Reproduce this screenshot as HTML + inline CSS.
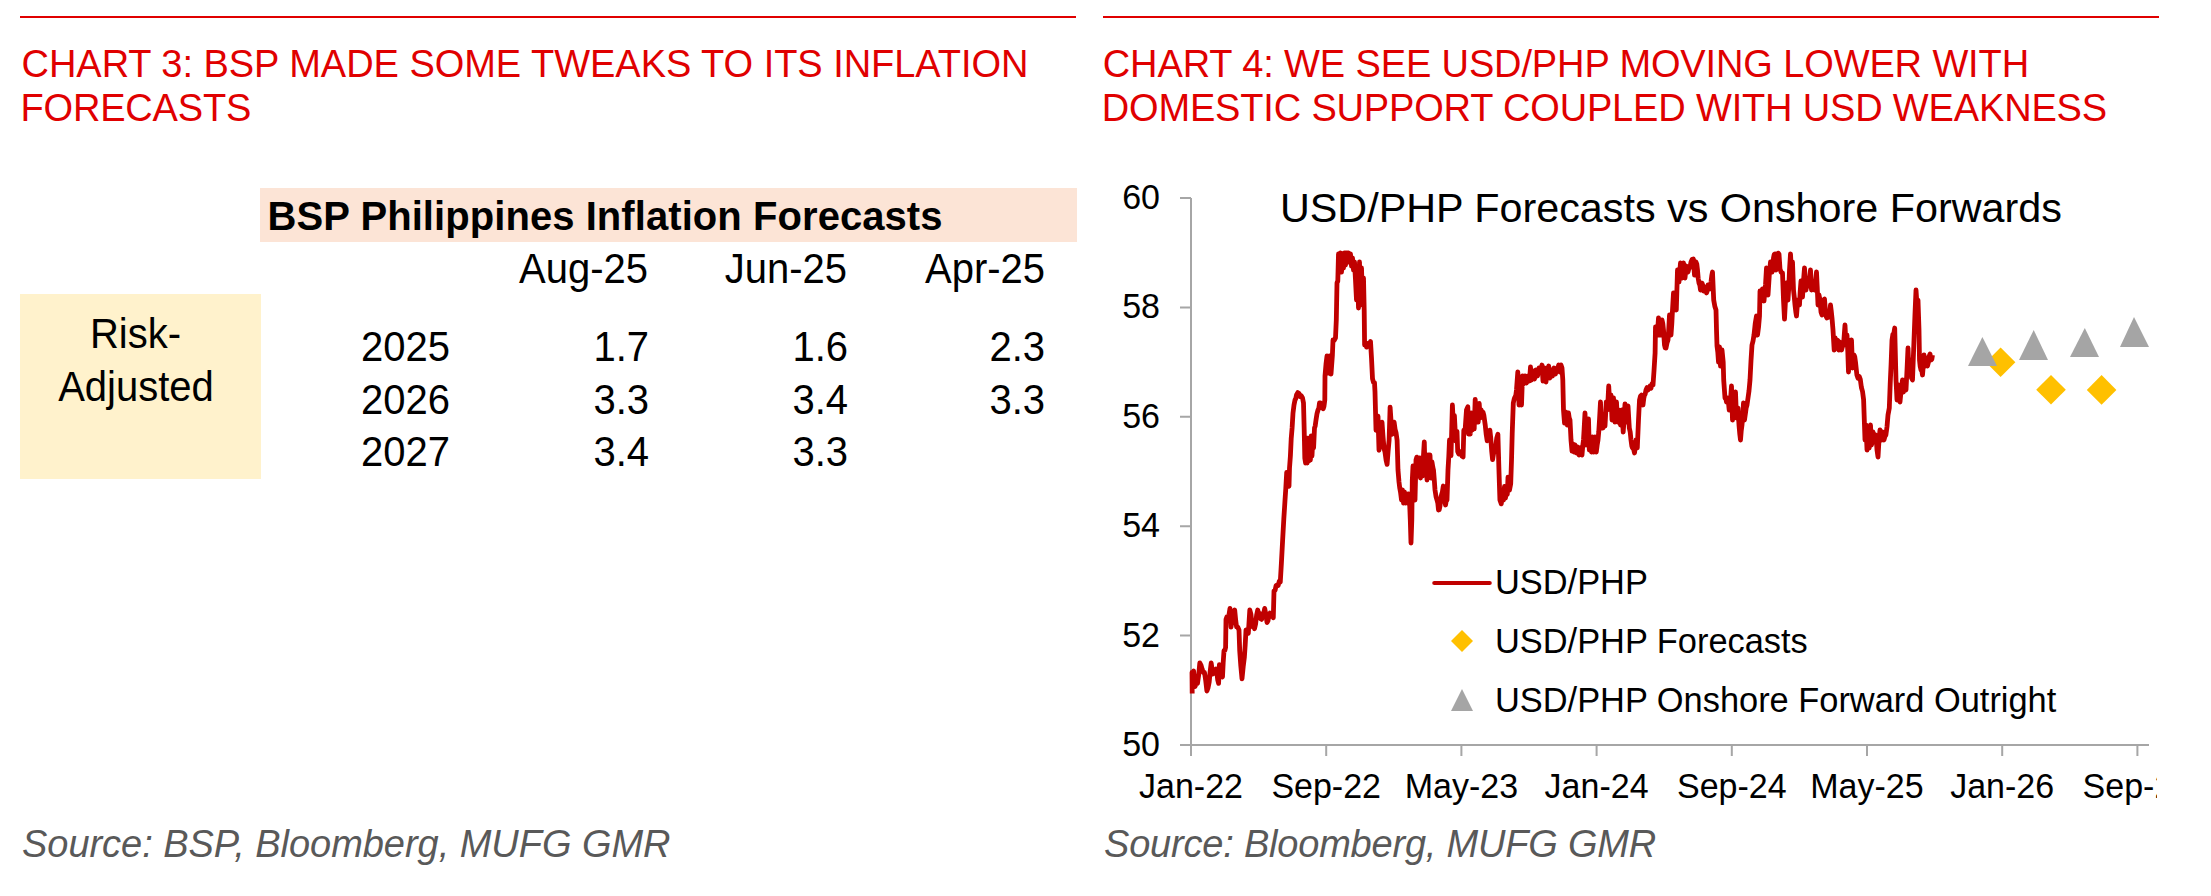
<!DOCTYPE html>
<html><head><meta charset="utf-8">
<style>
html,body{margin:0;padding:0;background:#fff;width:2211px;height:896px;overflow:hidden}
svg{display:block}
text{font-family:"Liberation Sans",sans-serif}
</style></head><body>
<svg width="2211" height="896" viewBox="0 0 2211 896">
<!-- LEFT PANEL -->
<rect x="20" y="16" width="1056" height="2" fill="#E00000"/>
<text x="21.5" y="77" font-size="38" fill="#E00000" textLength="1007">CHART 3: BSP MADE SOME TWEAKS TO ITS INFLATION</text>
<text x="20.5" y="121" font-size="38" fill="#E00000" textLength="230.8">FORECASTS</text>
<rect x="260" y="188" width="817" height="54" fill="#FCE4D6"/>
<text x="267.5" y="230" font-size="40" font-weight="bold" fill="#000" textLength="675">BSP Philippines Inflation Forecasts</text>
<g font-size="40" fill="#000" text-anchor="end">
<text x="648" y="283" transform="matrix(1,0,0,1.05,0,-14.150)">Aug-25</text>
<text x="847" y="283" transform="matrix(1,0,0,1.05,0,-14.150)">Jun-25</text>
<text x="1045" y="283" transform="matrix(1,0,0,1.05,0,-14.150)">Apr-25</text>
</g>
<rect x="20" y="294" width="241" height="185" fill="#FFF2CC"/>
<g font-size="40" fill="#000" text-anchor="middle">
<text x="135.5" y="348" transform="matrix(1,0,0,1.05,0,-17.400)">Risk-</text>
<text x="136" y="401" transform="matrix(1,0,0,1.05,0,-20.050)">Adjusted</text>
</g>
<g font-size="40" fill="#000" text-anchor="end">
<text x="450" y="361" transform="matrix(1,0,0,1.05,0,-18.050)">2025</text>
<text x="450" y="414" transform="matrix(1,0,0,1.05,0,-20.700)">2026</text>
<text x="450" y="466" transform="matrix(1,0,0,1.05,0,-23.300)">2027</text>
<text x="649" y="361" transform="matrix(1,0,0,1.05,0,-18.050)">1.7</text>
<text x="649" y="414" transform="matrix(1,0,0,1.05,0,-20.700)">3.3</text>
<text x="649" y="466" transform="matrix(1,0,0,1.05,0,-23.300)">3.4</text>
<text x="848" y="361" transform="matrix(1,0,0,1.05,0,-18.050)">1.6</text>
<text x="848" y="414" transform="matrix(1,0,0,1.05,0,-20.700)">3.4</text>
<text x="848" y="466" transform="matrix(1,0,0,1.05,0,-23.300)">3.3</text>
<text x="1045" y="361" transform="matrix(1,0,0,1.05,0,-18.050)">2.3</text>
<text x="1045" y="414" transform="matrix(1,0,0,1.05,0,-20.700)">3.3</text>
</g>
<text x="22" y="857" font-size="38" font-style="italic" fill="#595959" textLength="648.5">Source: BSP, Bloomberg, MUFG GMR</text>

<!-- RIGHT PANEL -->
<rect x="1103" y="16" width="1056" height="2" fill="#E00000"/>
<text x="1102.8" y="77" font-size="38" fill="#E00000" textLength="926.3">CHART 4: WE SEE USD/PHP MOVING LOWER WITH</text>
<text x="1101.75" y="121" font-size="38" fill="#E00000" textLength="1005.4">DOMESTIC SUPPORT COUPLED WITH USD WEAKNESS</text>
<text x="1280" y="222" font-size="41.3" fill="#000">USD/PHP Forecasts vs Onshore Forwards</text>
<!-- axes -->
<g stroke="#A6A6A6" stroke-width="2" fill="none">
<path d="M1191 198 V745 H2149"/>
<path d="M1180 198 H1191 M1180 307.4 H1191 M1180 416.8 H1191 M1180 526.2 H1191 M1180 635.6 H1191 M1180 745 H1191"/>
<path d="M1191 745 V756 M1326.2 745 V756 M1461.4 745 V756 M1596.6 745 V756 M1731.8 745 V756 M1867 745 V756 M2002.2 745 V756 M2137.4 745 V756"/>
</g>
<g font-size="34" fill="#000" text-anchor="end">
<text x="1160" y="209" transform="matrix(1,0,0,1.05,0,-10.450)">60</text>
<text x="1160" y="318.4" transform="matrix(1,0,0,1.05,0,-15.920)">58</text>
<text x="1160" y="427.8" transform="matrix(1,0,0,1.05,0,-21.390)">56</text>
<text x="1160" y="537.2" transform="matrix(1,0,0,1.05,0,-26.860)">54</text>
<text x="1160" y="646.6" transform="matrix(1,0,0,1.05,0,-32.330)">52</text>
<text x="1160" y="756" transform="matrix(1,0,0,1.05,0,-37.800)">50</text>
</g>
<svg x="0" y="760" width="2157" height="60" overflow="hidden">
<g font-size="34" fill="#000" text-anchor="middle">
<text x="1191" y="38" transform="matrix(1,0,0,1.05,0,-1.900)">Jan-22</text>
<text x="1326.2" y="38" transform="matrix(1,0,0,1.05,0,-1.900)">Sep-22</text>
<text x="1461.4" y="38" transform="matrix(1,0,0,1.05,0,-1.900)">May-23</text>
<text x="1596.6" y="38" transform="matrix(1,0,0,1.05,0,-1.900)">Jan-24</text>
<text x="1731.8" y="38" transform="matrix(1,0,0,1.05,0,-1.900)">Sep-24</text>
<text x="1867" y="38" transform="matrix(1,0,0,1.05,0,-1.900)">May-25</text>
<text x="2002.2" y="38" transform="matrix(1,0,0,1.05,0,-1.900)">Jan-26</text>
<text x="2137.4" y="38" transform="matrix(1,0,0,1.05,0,-1.900)">Sep-26</text>
</g>
</svg>
<!-- SERIES -->
<path id="series" d="M1192.2 693.5 L1192.0 672.5 L1192.8 673.1 L1193.6 671.0 L1195.0 686.6 L1196.2 683.8 L1197.5 683.4 L1198.7 674.9 L1199.8 663.0 L1201.0 665.1 L1202.2 669.4 L1203.3 672.5 L1204.5 672.5 L1205.7 680.4 L1206.9 691.0 L1208.1 687.6 L1209.2 682.0 L1210.2 671.0 L1211.2 663.0 L1212.1 669.5 L1213.0 674.0 L1214.0 670.9 L1215.0 671.7 L1216.0 669.0 L1216.9 672.7 L1217.7 680.0 L1218.6 683.4 L1219.4 664.7 L1220.4 667.0 L1221.5 674.0 L1222.5 677.0 L1223.2 662.6 L1224.0 650.6 L1224.8 650.7 L1225.6 647.5 L1226.0 619.4 L1227.0 616.7 L1228.0 617.8 L1229.0 614.7 L1230.0 608.4 L1231.0 627.0 L1231.9 621.4 L1232.8 620.5 L1233.8 613.2 L1234.7 610.0 L1235.7 620.4 L1236.6 627.0 L1237.8 627.2 L1239.0 630.0 L1239.7 650.6 L1240.8 665.8 L1242.0 678.8 L1243.2 666.7 L1244.4 656.9 L1245.2 644.8 L1246.0 630.0 L1247.2 629.9 L1248.3 633.4 L1249.0 622.9 L1249.8 610.0 L1250.9 614.1 L1251.9 623.0 L1253.0 627.0 L1253.8 626.5 L1254.5 628.8 L1255.6 624.0 L1256.6 615.2 L1257.7 610.0 L1258.7 613.4 L1259.7 613.5 L1260.6 618.7 L1261.6 619.4 L1262.6 614.3 L1263.7 613.4 L1264.7 608.4 L1265.8 613.9 L1267.0 622.5 L1268.0 620.8 L1269.0 614.9 L1270.0 613.0 L1271.1 616.4 L1272.2 614.5 L1273.3 617.8 L1274.0 591.0 L1275.1 590.2 L1276.1 585.4 L1277.2 585.0 L1278.2 585.5 L1279.3 581.1 L1280.3 581.9 L1281.4 563.0 L1282.6 540.6 L1283.8 519.2 L1285.0 500.4 L1285.8 488.3 L1286.7 472.3 L1287.8 478.2 L1289.0 486.3 L1289.5 468.2 L1290.4 455.8 L1291.2 438.8 L1292.1 428.0 L1293.0 413.0 L1294.0 405.0 L1295.0 400.0 L1295.8 398.5 L1296.5 395.0 L1297.8 392.6 L1299.0 393.5 L1300.2 396.5 L1301.5 396.0 L1302.5 397.9 L1303.5 403.0 L1304.2 430.0 L1304.8 458.0 L1305.6 463.0 L1306.4 438.0 L1307.2 463.0 L1308.0 440.0 L1308.8 461.0 L1309.6 438.0 L1310.4 460.0 L1311.2 436.0 L1312.0 456.0 L1312.8 440.0 L1313.6 448.0 L1314.5 428.0 L1315.2 425.9 L1316.0 420.0 L1317.0 413.7 L1318.0 410.0 L1318.8 408.2 L1319.5 403.0 L1320.4 402.9 L1321.3 407.5 L1322.3 405.9 L1323.2 408.8 L1324.0 406.2 L1324.8 400.0 L1325.0 376.0 L1326.0 364.1 L1327.0 356.0 L1328.3 373.0 L1329.6 356.0 L1331.0 374.0 L1332.4 355.0 L1333.0 340.0 L1334.2 340.5 L1335.5 338.0 L1336.3 320.0 L1337.0 283.0 L1337.8 281.0 L1338.5 254.0 L1339.5 270.0 L1340.5 253.0 L1341.5 272.0 L1342.5 254.0 L1343.5 268.0 L1344.5 253.0 L1345.5 265.0 L1346.5 253.0 L1347.5 262.0 L1348.5 253.0 L1349.5 262.0 L1350.5 254.0 L1351.5 266.0 L1352.5 258.0 L1353.5 270.0 L1354.5 262.0 L1355.5 280.0 L1356.5 300.0 L1357.5 268.0 L1358.5 308.0 L1359.5 262.0 L1360.5 305.0 L1361.5 268.0 L1362.5 300.0 L1363.5 278.0 L1364.2 310.0 L1364.6 345.0 L1365.6 343.8 L1366.5 347.1 L1367.5 346.5 L1368.5 343.1 L1369.5 344.8 L1370.5 341.5 L1371.5 358.1 L1372.5 378.7 L1373.5 382.5 L1374.5 382.7 L1375.0 392.0 L1376.0 430.3 L1377.0 422.0 L1378.0 416.2 L1379.0 450.3 L1380.0 442.3 L1381.0 429.9 L1382.0 422.2 L1383.0 436.3 L1384.0 448.3 L1385.0 452.2 L1386.1 460.2 L1387.1 464.4 L1388.1 451.2 L1389.1 440.3 L1390.1 407.1 L1391.1 421.8 L1392.1 434.3 L1393.1 426.5 L1394.1 422.2 L1395.1 429.4 L1396.1 433.0 L1397.1 440.3 L1398.0 470.0 L1399.0 482.0 L1399.8 488.4 L1400.5 492.0 L1401.5 500.0 L1402.5 490.0 L1403.5 503.0 L1404.5 492.0 L1405.5 503.0 L1406.5 494.0 L1407.5 503.0 L1408.5 494.0 L1409.5 500.0 L1410.3 520.0 L1411.0 543.0 L1411.8 520.0 L1412.3 480.0 L1413.0 466.0 L1414.2 470.0 L1415.0 500.0 L1416.0 460.0 L1416.8 457.1 L1417.5 458.0 L1418.5 476.0 L1419.5 458.0 L1420.5 478.0 L1421.5 458.0 L1422.5 476.0 L1423.5 455.0 L1424.3 442.0 L1425.0 470.0 L1426.0 455.0 L1427.0 480.0 L1428.0 455.0 L1429.0 472.0 L1430.0 455.0 L1431.0 478.0 L1432.0 462.0 L1432.8 467.1 L1433.5 470.0 L1434.2 478.6 L1435.0 490.0 L1436.0 496.5 L1437.0 500.0 L1437.8 503.1 L1438.5 510.0 L1439.2 509.8 L1440.0 506.0 L1440.8 498.6 L1441.5 495.0 L1442.4 491.8 L1443.3 486.0 L1444.5 500.0 L1445.5 505.0 L1446.2 501.1 L1447.0 500.0 L1448.0 470.0 L1448.8 456.4 L1449.5 440.0 L1450.2 446.0 L1451.0 455.7 L1452.4 405.0 L1453.4 425.0 L1454.4 415.5 L1455.7 441.0 L1457.0 431.5 L1457.7 451.6 L1458.8 454.0 L1460.0 451.4 L1461.1 453.0 L1462.1 456.2 L1463.1 457.0 L1463.8 430.2 L1465.0 432.0 L1465.8 419.8 L1466.5 410.0 L1467.8 406.8 L1468.5 434.0 L1469.5 420.0 L1470.3 434.0 L1471.1 412.8 L1472.2 430.0 L1473.1 415.0 L1474.2 428.9 L1475.2 399.4 L1476.2 420.0 L1477.2 405.0 L1478.2 422.2 L1479.2 403.4 L1480.2 418.0 L1481.2 410.0 L1482.1 413.1 L1483.0 412.2 L1483.9 415.5 L1485.2 424.8 L1486.2 434.4 L1487.2 440.9 L1488.1 436.1 L1489.0 434.8 L1489.9 430.2 L1490.8 438.6 L1491.7 451.2 L1492.6 459.7 L1493.6 453.4 L1494.6 450.3 L1495.7 446.9 L1496.8 437.9 L1497.9 434.2 L1498.9 468.6 L1499.9 499.9 L1501.3 503.9 L1502.5 490.0 L1503.5 500.0 L1504.5 486.5 L1505.5 498.0 L1506.6 488.0 L1507.3 494.5 L1508.0 477.1 L1508.8 481.9 L1509.5 490.0 L1510.7 483.8 L1511.5 460.6 L1512.2 434.0 L1513.3 403.0 L1514.2 398.9 L1515.0 397.0 L1515.8 395.4 L1516.5 390.0 L1517.8 372.0 L1519.0 405.0 L1519.8 389.7 L1520.5 378.0 L1521.5 405.0 L1522.5 376.0 L1523.5 384.0 L1524.2 381.9 L1525.0 376.0 L1525.8 377.7 L1526.5 383.0 L1527.2 380.9 L1528.0 376.0 L1528.8 377.1 L1529.5 381.0 L1530.5 367.0 L1531.5 380.0 L1532.2 376.6 L1533.0 371.0 L1533.8 373.4 L1534.5 379.0 L1535.2 375.6 L1536.0 370.0 L1536.8 371.9 L1537.5 376.0 L1538.2 373.2 L1539.0 368.0 L1539.8 368.8 L1540.5 372.0 L1541.2 369.8 L1542.0 365.0 L1543.0 381.0 L1543.8 373.4 L1544.5 368.0 L1545.2 376.0 L1546.0 382.0 L1546.8 374.8 L1547.5 370.0 L1548.7 366.0 L1549.7 378.0 L1551.0 370.0 L1551.8 374.1 L1552.5 376.0 L1553.2 370.6 L1554.0 368.0 L1554.8 372.0 L1555.5 374.0 L1556.2 369.1 L1557.0 368.0 L1557.8 368.1 L1558.7 365.0 L1560.0 372.0 L1561.0 365.0 L1562.0 368.0 L1562.8 380.0 L1563.5 410.0 L1564.5 423.0 L1565.2 416.4 L1566.0 412.0 L1567.3 425.0 L1568.5 413.0 L1569.2 417.8 L1570.0 420.0 L1571.0 440.0 L1572.0 451.0 L1573.0 444.0 L1574.0 452.0 L1575.0 445.0 L1575.8 447.7 L1576.5 453.0 L1577.2 451.4 L1578.0 447.0 L1579.0 455.0 L1579.8 450.4 L1580.5 448.0 L1581.2 453.3 L1582.0 455.0 L1582.8 445.5 L1583.5 440.0 L1584.2 428.0 L1585.0 413.0 L1586.0 445.0 L1587.0 425.0 L1587.8 420.5 L1588.5 419.0 L1589.3 450.0 L1590.5 443.0 L1591.5 452.0 L1592.5 437.0 L1593.5 452.0 L1594.2 445.6 L1595.0 437.0 L1596.3 452.0 L1597.2 444.9 L1598.0 440.0 L1598.8 431.3 L1599.5 420.0 L1600.5 402.0 L1601.5 428.0 L1602.2 426.7 L1603.0 428.0 L1604.0 418.0 L1605.0 426.0 L1606.3 402.0 L1607.5 410.0 L1608.7 386.0 L1610.0 408.0 L1611.0 395.0 L1612.0 420.0 L1612.8 410.8 L1613.5 398.0 L1614.2 408.8 L1615.0 422.0 L1615.8 413.0 L1616.5 402.0 L1617.5 422.0 L1618.2 414.0 L1619.0 410.0 L1619.8 419.0 L1620.5 425.0 L1621.2 416.4 L1622.0 410.0 L1623.2 432.0 L1624.1 419.5 L1625.0 404.0 L1625.8 412.0 L1626.5 422.0 L1627.2 415.5 L1628.0 406.0 L1629.3 428.0 L1630.2 432.0 L1631.0 440.0 L1631.8 445.9 L1632.5 448.0 L1633.5 448.8 L1634.5 453.0 L1635.2 447.8 L1636.0 440.0 L1637.3 448.0 L1638.5 420.0 L1639.5 400.0 L1640.5 396.1 L1641.5 395.0 L1642.2 401.2 L1643.0 405.0 L1643.8 398.2 L1644.5 395.0 L1645.2 394.0 L1646.0 390.0 L1647.0 387.6 L1648.0 390.0 L1649.0 388.0 L1650.0 386.0 L1651.0 388.3 L1652.0 383.8 L1653.0 385.0 L1654.0 370.9 L1655.1 353.0 L1655.5 327.0 L1656.2 329.2 L1657.0 335.0 L1657.8 328.3 L1658.5 318.0 L1659.2 324.8 L1660.0 335.0 L1661.0 328.7 L1662.0 320.0 L1662.8 323.5 L1663.5 330.0 L1664.5 345.0 L1665.2 347.9 L1666.0 348.0 L1667.0 343.0 L1668.0 340.0 L1668.8 328.5 L1669.5 315.0 L1670.2 323.7 L1671.0 335.0 L1671.8 323.8 L1672.5 310.0 L1673.5 293.0 L1674.2 297.3 L1675.0 305.0 L1676.3 310.0 L1677.5 270.0 L1678.2 278.0 L1679.0 282.0 L1679.8 271.1 L1680.5 263.0 L1681.2 272.4 L1682.0 278.0 L1682.8 268.5 L1683.5 263.0 L1684.2 272.5 L1685.0 278.0 L1685.8 270.6 L1686.5 266.0 L1687.2 270.2 L1688.0 272.0 L1688.8 268.8 L1689.5 268.0 L1690.2 266.2 L1691.0 262.0 L1692.2 259.3 L1693.3 259.0 L1694.5 275.0 L1695.2 270.1 L1696.0 262.0 L1696.8 264.1 L1697.5 270.0 L1698.2 278.3 L1699.0 283.0 L1699.8 285.0 L1700.5 290.0 L1701.2 288.2 L1702.0 283.0 L1702.8 285.2 L1703.5 291.0 L1704.2 290.1 L1705.0 287.0 L1705.8 288.3 L1706.5 293.0 L1707.2 290.9 L1708.0 285.0 L1708.8 285.2 L1709.5 289.0 L1710.2 287.3 L1711.0 282.0 L1711.8 275.5 L1712.5 272.0 L1713.7 300.0 L1714.8 306.2 L1716.0 310.0 L1716.5 330.0 L1717.0 346.0 L1717.8 352.2 L1718.5 362.0 L1719.5 347.0 L1720.5 366.0 L1721.2 359.3 L1722.0 350.0 L1723.2 362.0 L1723.7 380.0 L1725.0 398.0 L1725.8 398.2 L1726.5 402.0 L1727.2 402.0 L1728.0 398.0 L1729.2 410.0 L1730.5 400.0 L1731.5 386.0 L1732.5 420.0 L1733.2 408.6 L1734.0 400.0 L1734.8 397.4 L1735.5 392.0 L1736.5 418.0 L1737.2 411.1 L1738.0 408.0 L1739.0 425.0 L1739.8 434.2 L1740.5 440.0 L1741.2 431.3 L1742.0 425.0 L1742.8 415.1 L1743.5 403.0 L1744.5 420.0 L1745.5 413.0 L1746.2 407.8 L1747.0 405.0 L1748.0 398.0 L1749.0 390.9 L1750.0 380.0 L1751.0 360.7 L1752.0 345.0 L1753.0 341.1 L1754.0 335.0 L1755.2 323.7 L1756.5 316.0 L1757.5 335.0 L1758.5 327.5 L1759.5 316.0 L1760.0 291.0 L1760.8 293.8 L1761.5 300.0 L1762.5 289.0 L1763.2 296.4 L1764.0 301.0 L1764.8 291.5 L1765.5 285.0 L1766.5 268.0 L1767.2 282.6 L1768.0 295.0 L1769.3 275.0 L1770.5 262.0 L1771.2 266.0 L1772.0 272.0 L1772.8 267.0 L1773.5 258.0 L1774.2 254.4 L1775.0 254.0 L1776.0 270.0 L1776.8 264.5 L1777.5 256.0 L1778.2 253.1 L1779.0 254.0 L1780.0 269.0 L1781.2 272.4 L1782.5 273.0 L1783.5 300.0 L1784.5 319.0 L1785.5 300.0 L1786.5 283.0 L1787.2 289.6 L1788.0 300.0 L1788.8 286.8 L1789.5 270.0 L1790.5 254.0 L1791.5 272.0 L1792.5 262.0 L1793.5 290.0 L1794.2 296.3 L1795.0 305.0 L1795.8 311.8 L1796.5 316.0 L1797.2 306.7 L1798.0 300.0 L1798.8 303.7 L1799.5 305.0 L1800.2 291.4 L1801.0 281.0 L1801.8 290.3 L1802.5 297.0 L1803.5 281.1 L1804.5 268.0 L1805.2 280.1 L1806.0 290.0 L1806.8 283.1 L1807.5 280.0 L1808.2 284.4 L1809.0 286.0 L1809.8 276.5 L1810.5 270.0 L1811.5 290.0 L1812.2 288.6 L1813.0 284.0 L1813.8 285.1 L1814.5 290.0 L1815.5 282.4 L1816.5 272.0 L1817.2 286.6 L1818.0 305.0 L1819.0 295.0 L1820.0 300.0 L1821.0 312.0 L1822.0 315.0 L1823.3 300.0 L1824.5 299.0 L1825.5 312.0 L1826.2 316.5 L1827.0 318.0 L1828.0 315.9 L1829.0 316.9 L1829.8 312.5 L1830.5 305.0 L1831.2 310.5 L1832.0 318.0 L1833.0 330.0 L1834.2 350.0 L1835.2 338.0 L1836.3 348.0 L1837.5 340.0 L1838.7 350.0 L1840.0 342.0 L1840.8 347.4 L1841.5 350.0 L1842.5 346.3 L1843.5 345.0 L1844.2 336.0 L1845.0 325.0 L1846.0 345.0 L1847.0 335.0 L1847.8 351.7 L1848.5 372.0 L1849.5 345.0 L1850.5 360.0 L1851.5 340.0 L1852.5 368.0 L1853.2 362.7 L1854.0 355.0 L1854.8 357.0 L1855.5 362.0 L1856.9 375.0 L1858.0 378.2 L1859.2 376.4 L1860.3 379.4 L1861.4 387.5 L1862.5 391.3 L1863.6 399.6 L1865.0 440.0 L1866.0 425.0 L1867.0 450.0 L1868.0 432.0 L1869.2 448.0 L1870.5 425.0 L1871.5 445.0 L1872.2 440.1 L1873.0 432.0 L1873.8 435.2 L1874.5 442.0 L1875.2 439.6 L1876.0 435.0 L1877.0 450.0 L1878.0 457.0 L1879.0 440.0 L1880.0 430.0 L1880.8 433.4 L1881.5 440.0 L1882.5 432.0 L1883.2 437.2 L1884.0 440.0 L1885.0 436.2 L1885.9 435.0 L1887.0 426.8 L1888.0 415.0 L1889.3 408.0 L1890.2 383.8 L1891.1 364.2 L1892.0 340.0 L1892.9 334.2 L1893.8 333.9 L1894.7 328.0 L1896.0 380.0 L1897.0 400.0 L1897.8 391.1 L1898.5 385.0 L1899.2 395.1 L1900.0 402.0 L1900.8 393.5 L1901.5 388.0 L1902.5 380.0 L1903.5 392.0 L1904.2 387.5 L1905.0 380.0 L1906.0 390.0 L1907.0 370.0 L1908.0 348.0 L1909.0 372.0 L1909.8 364.3 L1910.5 360.0 L1911.5 378.0 L1912.5 380.0 L1913.2 361.5 L1914.0 340.0 L1915.0 313.5 L1916.0 290.0 L1917.0 305.0 L1918.0 300.0 L1919.0 330.0 L1919.5 360.0 L1920.2 366.5 L1921.0 370.0 L1921.8 370.6 L1922.5 375.0 L1923.2 366.7 L1924.0 355.0 L1925.3 366.0 L1926.5 358.0 L1927.5 366.0 L1928.5 362.0 L1929.2 356.1 L1930.0 354.0 L1931.0 360.0 L1931.8 359.4 L1932.5 355.0" stroke="#C00000" stroke-width="4.8" fill="none" stroke-linejoin="round"/>
<!-- forecasts -->
<g fill="#FFC000">
<path d="M2000.6 347.4 L2015.4 362.2 L2000.6 377 L1985.8 362.2 Z"/>
<path d="M2051 375 L2065.8 389.8 L2051 404.6 L2036.2 389.8 Z"/>
<path d="M2101.6 375.1 L2116.4 389.9 L2101.6 404.7 L2086.8 389.9 Z"/>
</g>
<g fill="#A5A5A5">
<path d="M1982.4 337 L1997 366 L1968 366 Z"/>
<path d="M2033.7 330 L2048 360 L2019 360 Z"/>
<path d="M2084.8 328 L2099 357 L2070 357 Z"/>
<path d="M2134 317 L2149 347 L2120 347 Z"/>
</g>
<!-- legend -->
<path d="M1434.3 583 H1489.7" stroke="#C00000" stroke-width="4.2" stroke-linecap="round"/>
<text x="1495" y="594" font-size="34.4" fill="#000">USD/PHP</text>
<path d="M1462 630 L1473 641 L1462 652 L1451 641 Z" fill="#FFC000"/>
<text x="1495" y="653" font-size="34.4" fill="#000">USD/PHP Forecasts</text>
<path d="M1462 689 L1473 711 L1451 711 Z" fill="#A5A5A5"/>
<text x="1495" y="712" font-size="34.4" fill="#000">USD/PHP Onshore Forward Outright</text>
<text x="1104" y="857" font-size="38" font-style="italic" fill="#595959" textLength="552.2">Source: Bloomberg, MUFG GMR</text>
</svg>
</body></html>
